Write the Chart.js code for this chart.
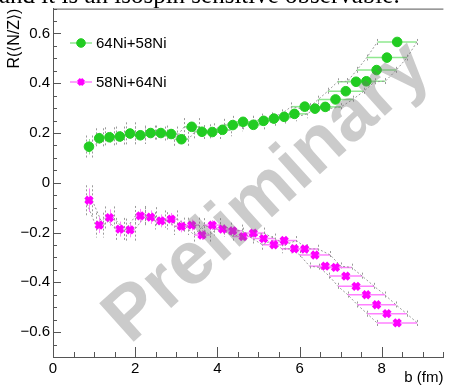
<!DOCTYPE html>
<html>
<head>
<meta charset="utf-8">
<script src="https://cdn.jsdelivr.net/npm/chart.js@4.4.0/dist/chart.umd.min.js"></script>
<style>
  html, body { margin: 0; padding: 0; background: #fff; }
  #wrap { width: 452px; height: 387px; }
</style>
</head>
<body>
<div id="wrap"><canvas id="c" width="452" height="387"></canvas></div>
<script>
// impact parameter bins (fm), same binning for both systems
const bValues = [0.875, 1.125, 1.375, 1.625, 1.875, 2.125, 2.375, 2.625, 2.875, 3.125,
                 3.375, 3.625, 3.875, 4.125, 4.375, 4.625, 4.875, 5.125, 5.375, 5.625,
                 5.875, 6.125, 6.375, 6.625, 6.875, 7.125, 7.375, 7.625, 7.875, 8.125, 8.375];

// 64Ni+58Ni
const greenR = [0.145, 0.179, 0.183, 0.186, 0.198, 0.191, 0.200, 0.200, 0.196, 0.175,
                0.225, 0.205, 0.204, 0.213, 0.232, 0.245, 0.233, 0.249, 0.258, 0.265,
                0.277, 0.306, 0.298, 0.305, 0.335, 0.368, 0.406, 0.408, 0.453, 0.503, 0.566];
const greenXErr = [0.08, 0.09, 0.10, 0.10, 0.11, 0.12, 0.13, 0.14, 0.15, 0.17,
                   0.18, 0.19, 0.20, 0.21, 0.22, 0.24, 0.25, 0.27, 0.28, 0.30,
                   0.31, 0.33, 0.35, 0.38, 0.42, 0.44, 0.45, 0.46, 0.48, 0.49, 0.48];
const greenYErr = [0.031, 0.022, 0.022, 0.022, 0.020, 0.020, 0.020, 0.020, 0.020, 0.018,
                   0.018, 0.016, 0.016, 0.015, 0.015, 0.014, 0.013, 0.013, 0.012, 0.012,
                   0.012, 0.011, 0.011, 0.011, 0.010, 0.010, 0.010, 0.010, 0.010, 0.010, 0.010];
const greenSys = [0.045, 0.040, 0.040, 0.040, 0.045, 0.035, 0.030, 0.030, 0.030, 0.030,
                  0.035, 0.030, 0.028, 0.026, 0.025, 0.024, 0.022, 0.020, 0.020, 0.018,
                  0.018, 0.017, 0.016, 0.015, 0.015, 0.014, 0.014, 0.013, 0.013, 0.012, 0.012];

// 58Ni+64Ni
const magentaR = [-0.070, -0.170, -0.140, -0.186, -0.189, -0.133, -0.138, -0.153, -0.146, -0.175,
                  -0.170, -0.210, -0.170, -0.186, -0.193, -0.216, -0.202, -0.224, -0.249, -0.232,
                  -0.265, -0.266, -0.290, -0.335, -0.340, -0.375, -0.416, -0.450, -0.490, -0.526, -0.563];
const magentaXErr = [0.08, 0.09, 0.10, 0.10, 0.11, 0.12, 0.13, 0.14, 0.15, 0.17,
                     0.18, 0.19, 0.20, 0.21, 0.22, 0.24, 0.25, 0.27, 0.28, 0.30,
                     0.31, 0.33, 0.37, 0.38, 0.39, 0.40, 0.44, 0.45, 0.47, 0.48, 0.49];
const magentaYErr = [0.047, 0.032, 0.033, 0.030, 0.030, 0.028, 0.027, 0.026, 0.025, 0.024,
                     0.022, 0.020, 0.020, 0.018, 0.017, 0.016, 0.015, 0.014, 0.014, 0.013,
                     0.013, 0.012, 0.012, 0.012, 0.011, 0.011, 0.011, 0.010, 0.010, 0.010, 0.010];
const magentaSys = [0.060, 0.050, 0.045, 0.045, 0.045, 0.040, 0.040, 0.035, 0.035, 0.035,
                    0.030, 0.030, 0.028, 0.026, 0.025, 0.024, 0.022, 0.020, 0.020, 0.018,
                    0.018, 0.017, 0.016, 0.015, 0.015, 0.014, 0.014, 0.013, 0.013, 0.012, 0.012];

const xTickValues = [0, 2, 4, 6, 8];
const yTickValues = [-0.6, -0.4, -0.2, 0, 0.2, 0.4, 0.6];

const FONT = '"Liberation Sans", Arial, Helvetica, sans-serif';
Chart.defaults.font.family = FONT;
Chart.defaults.color = '#000';

function points(rs, shift) {
  return bValues.map((b, i) => ({ x: b + (shift ? shift[i] : 0), y: rs[i] }));
}
function neg(arr) { return arr.map(v => -v); }

function envelope(rs, xerr, sign) {
  return {
    data: points(rs, sign < 0 ? neg(xerr) : xerr),
    showLine: true,
    borderColor: '#9a9a9a',
    borderWidth: 1,
    borderDash: [2, 2],
    pointRadius: 0,
    fill: false,
    order: 5
  };
}

// horizontal / vertical error bars, drawn under the markers
const errorBars = {
  id: 'errorBars',
  beforeDatasetsDraw(chart) {
    const { ctx, scales: { x, y } } = chart;
    ctx.save();
    chart.data.datasets.forEach(ds => {
      if (!ds.xErr) return;
      bValues.forEach((b, i) => {
        const r = ds.rValues[i];
        const py = y.getPixelForValue(r);
        const xl = x.getPixelForValue(b - ds.xErr[i]);
        const xr = x.getPixelForValue(b + ds.xErr[i]);
        const px = x.getPixelForValue(b);
        // gray dotted systematic bars at the bin edges
        ctx.strokeStyle = '#9a9a9a';
        ctx.lineWidth = 1;
        ctx.setLineDash([2, 2]);
        [xl, xr].forEach(ex => {
          const t = y.getPixelForValue(r + ds.sys[i]);
          const bt = y.getPixelForValue(r - ds.sys[i]);
          ctx.beginPath();
          ctx.moveTo(Math.round(ex) + 0.5, t);
          ctx.lineTo(Math.round(ex) + 0.5, bt);
          ctx.stroke();
        });
        ctx.setLineDash([]);
        // horizontal bar
        ctx.strokeStyle = ds.barColor;
        ctx.lineWidth = 1.5;
        ctx.beginPath();
        ctx.moveTo(xl, py);
        ctx.lineTo(xr, py);
        ctx.stroke();
        // vertical statistical bar
        ctx.lineWidth = 1;
        ctx.beginPath();
        ctx.moveTo(Math.round(px) + 0.5, y.getPixelForValue(r + ds.yErr[i]));
        ctx.lineTo(Math.round(px) + 0.5, y.getPixelForValue(r - ds.yErr[i]));
        ctx.stroke();
      });
    });
    ctx.restore();
  }
};

// ROOT style ticks pointing into the frame
const insideTicks = {
  id: 'insideTicks',
  afterDatasetsDraw(chart) {
    const { ctx, chartArea: a, scales: { x, y } } = chart;
    ctx.save();
    ctx.strokeStyle = '#555';
    ctx.lineWidth = 1;
    ctx.beginPath();
    ctx.moveTo(a.left, a.top + 0.5);
    ctx.lineTo(a.right, a.top + 0.5);
    for (let k = Math.ceil(y.min / 0.05 - 1e-6); k * 0.05 <= y.max + 1e-6; k++) {
      const v = k * 0.05;
      const major = Math.abs(v / 0.2 - Math.round(v / 0.2)) < 1e-6;
      const py = Math.round(y.getPixelForValue(v)) + 0.5;
      ctx.moveTo(a.left, py);
      ctx.lineTo(a.left + (major ? 8 : 4), py);
    }
    for (let k = 0; k * 0.5 <= x.max + 1e-6; k++) {
      const v = k * 0.5;
      const major = k % 4 === 0;
      const px = Math.round(x.getPixelForValue(v)) + 0.5;
      ctx.moveTo(px, a.bottom);
      ctx.lineTo(px, a.bottom - (major ? 10 : 5));
    }
    ctx.stroke();
    ctx.restore();
  }
};

const legendBox = {
  id: 'legendBox',
  afterDraw(chart) {
    const { ctx } = chart;
    const rows = chart.data.datasets.filter(ds => ds.legendEntry);
    ctx.save();
    rows.forEach((ds, i) => {
      const yy = 43 + i * 39;
      ctx.strokeStyle = ds.barColor;
      ctx.lineWidth = 1.5;
      ctx.beginPath();
      ctx.moveTo(70, yy);
      ctx.lineTo(92, yy);
      ctx.stroke();
      ctx.fillStyle = ds.backgroundColor;
      ctx.strokeStyle = ds.borderColor;
      ctx.lineWidth = ds.borderWidth;
      Chart.helpers.drawPoint(ctx, {
        pointStyle: ds.pointStyle, radius: ds.legendRadius, rotation: 0, borderWidth: ds.borderWidth
      }, 81, yy);
      ctx.fillStyle = '#000';
      ctx.font = '15px ' + FONT;
      ctx.textAlign = 'left';
      ctx.textBaseline = 'middle';
      ctx.fillText(ds.label, 96, yy + 1);
    });
    ctx.restore();
  }
};

const overlay = {
  id: 'overlay',
  afterDraw(chart) {
    const { ctx } = chart;
    ctx.save();
    // slide text cut at the top
    ctx.fillStyle = '#000';
    ctx.font = '25px "Liberation Serif", "DejaVu Serif", serif';
    ctx.textAlign = 'left';
    ctx.textBaseline = 'alphabetic';
    ctx.fillText('and it is an isospin sensitive observable.', -1, 3);
    // watermark
    ctx.translate(268, 193);
    ctx.rotate(-42 * Math.PI / 180);
    ctx.fillStyle = 'rgba(110,110,110,0.36)';
    ctx.font = 'bold 75px ' + FONT;
    ctx.textAlign = 'center';
    ctx.textBaseline = 'middle';
    ctx.fillText('Preliminary', 0, 0);
    ctx.restore();
  }
};

new Chart(document.getElementById('c'), {
  type: 'scatter',
  data: {
    datasets: [
      {
        label: '64Ni+58Ni',
        legendEntry: true,
        data: points(greenR),
        rValues: greenR, xErr: greenXErr, yErr: greenYErr, sys: greenSys,
        barColor: '#8fe88f',
        pointStyle: 'circle',
        pointRadius: 4.8,
        legendRadius: 4.3,
        backgroundColor: '#22cc22',
        borderColor: '#22cc22',
        borderWidth: 1,
        order: 0
      },
      {
        label: '58Ni+64Ni',
        legendEntry: true,
        data: points(magentaR),
        rValues: magentaR, xErr: magentaXErr, yErr: magentaYErr, sys: magentaSys,
        barColor: '#ff80ff',
        pointStyle: 'crossRot',
        pointRadius: 4.6,
        legendRadius: 3.6,
        backgroundColor: '#ff00ff',
        borderColor: '#ff00ff',
        borderWidth: 4,
        order: 1
      },
      envelope(greenR, greenXErr, -1),
      envelope(greenR, greenXErr, 1),
      envelope(magentaR, magentaXErr, -1),
      envelope(magentaR, magentaXErr, 1)
    ]
  },
  options: {
    responsive: false,
    animation: false,
    events: [],
    layout: { padding: { top: 8, right: 3, left: 0, bottom: 0 } },
    plugins: { legend: { display: false }, tooltip: { enabled: false } },
    scales: {
      x: {
        type: 'linear',
        min: 0,
        max: 9.5,
        grid: { display: false, drawTicks: false },
        border: { display: true, color: '#555', width: 1 },
        afterBuildTicks: s => { s.ticks = xTickValues.map(v => ({ value: v })); },
        afterFit: s => { s.height = 30; s.paddingLeft = 0; s.paddingRight = 0; },
        ticks: { padding: 3, font: { size: 15 }, color: '#000', callback: v => String(v) },
        title: { display: true, text: 'b (fm)', align: 'end', font: { size: 15 }, padding: { top: 0, bottom: 0 } }
      },
      y: {
        type: 'linear',
        min: -0.7,
        max: 0.7,
        grid: { display: false, drawTicks: false },
        border: { display: true, color: '#555', width: 1 },
        afterBuildTicks: s => { s.ticks = yTickValues.map(v => ({ value: v })); },
        afterFit: s => { s.width = 53; s.paddingTop = 0; s.paddingBottom = 0; },
        ticks: {
          padding: 3, font: { size: 15 }, color: '#000',
          callback: v => (v < 0 ? '\u2212' : '') + (Math.abs(v) < 1e-9 ? '0' : Math.abs(v).toFixed(1))
        },
        title: { display: true, text: 'R(\u27E8N/Z\u27E9)', align: 'end', font: { size: 16 }, padding: { top: 5, bottom: 0 } }
      }
    }
  },
  plugins: [errorBars, insideTicks, legendBox, overlay]
});
</script>
</body>
</html>
